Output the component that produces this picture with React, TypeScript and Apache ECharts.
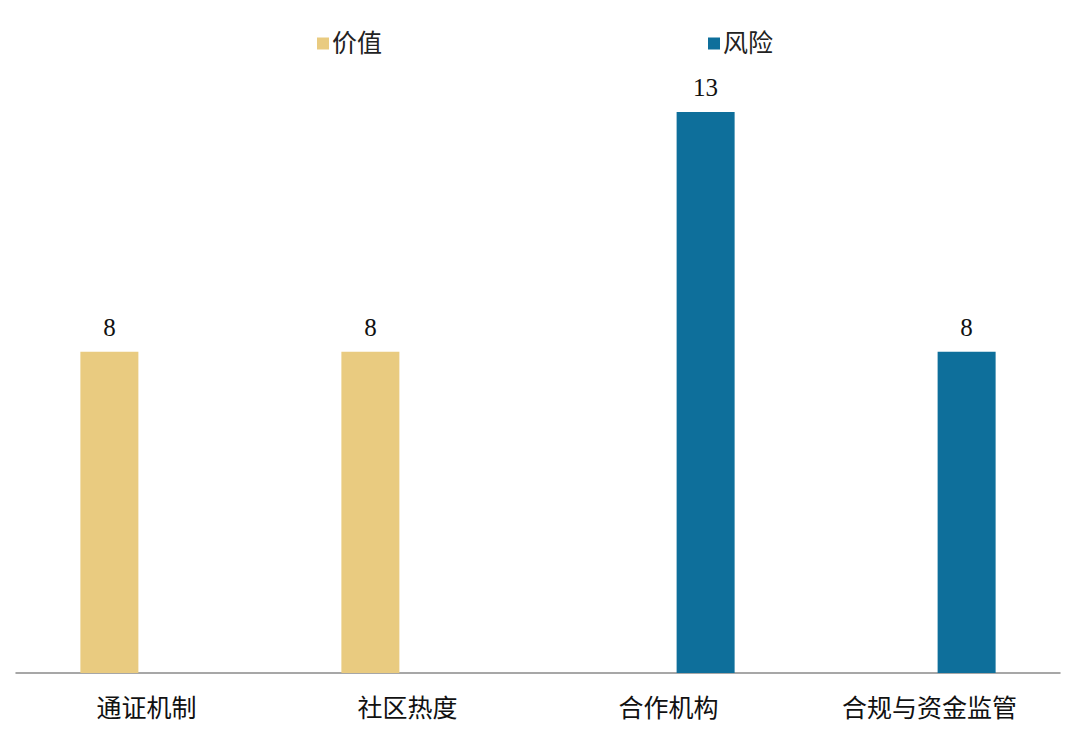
import { useEffect, useRef } from 'react';
import * as echarts from 'echarts';

const categories = ['通证机制', '社区热度', '合作机构', '合规与资金监管'];
const valueData = [8, 8, '-', '-'];
const riskData = ['-', '-', 13, 8];

const seriesNames = ['价值', '风险'];
const colors = ['#E9CB80', '#0E6F9B'];

const latinCjk = '"Liberation Serif", "Noto Sans CJK SC", serif';

export default function App() {
    const chartRef = useRef<HTMLDivElement>(null);

    useEffect(() => {
        if (!chartRef.current) return;
        document.body.style.margin = '0';
        const chart = echarts.init(chartRef.current, null, { renderer: 'svg' });

        const barLabel = {
            show: true,
            position: 'top',
            distance: 12,
            fontFamily: latinCjk,
            fontSize: 25,
            color: '#111'
        };

        const option = {
            animation: false,
            backgroundColor: '#fff',
            legend: {
                data: seriesNames,
                left: 312,
                top: 26,
                itemWidth: 12,
                itemHeight: 12,
                itemGap: 326,
                icon: 'rect',
                textStyle: {
                    fontFamily: latinCjk,
                    fontSize: 25,
                    color: '#222',
                    padding: [0, 0, 0, -2]
                }
            },
            grid: {
                left: 16,
                right: 20,
                top: 64,
                bottom: 71,
                containLabel: false
            },
            xAxis: {
                type: 'category',
                data: categories,
                axisTick: { show: false },
                axisLine: { lineStyle: { color: '#8a8a8a', width: 1.5 } },
                axisLabel: {
                    margin: 23,
                    fontFamily: latinCjk,
                    fontSize: 25,
                    color: '#111'
                }
            },
            yAxis: {
                type: 'value',
                min: 1.3,
                max: 14,
                show: false,
                splitLine: { show: false }
            },
            series: [
                {
                    name: seriesNames[0],
                    type: 'bar',
                    data: valueData,
                    barWidth: 58,
                    barGap: '28%',
                    itemStyle: { color: colors[0] },
                    label: barLabel
                },
                {
                    name: seriesNames[1],
                    type: 'bar',
                    data: riskData,
                    barWidth: 58,
                    barGap: '28%',
                    itemStyle: { color: colors[1] },
                    label: barLabel
                }
            ]
        };

        chart.setOption(option as echarts.EChartsOption);

        return () => {
            chart.dispose();
        };
    }, []);

    return <div ref={chartRef} style={{ width: 1080, height: 744 }} />;
}
